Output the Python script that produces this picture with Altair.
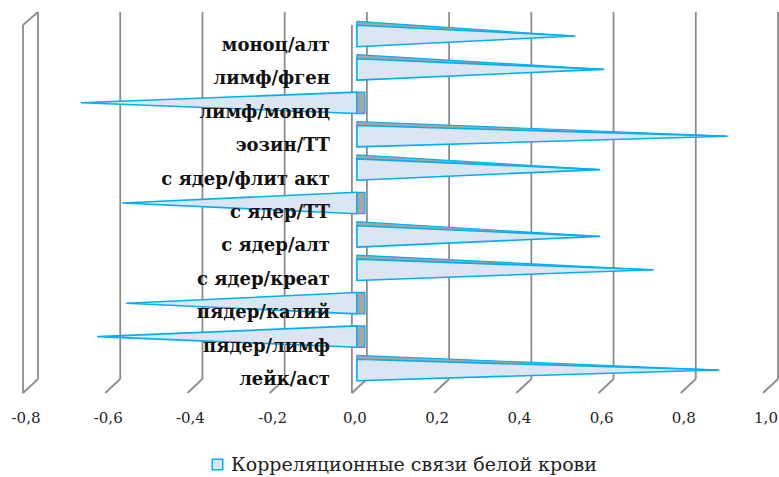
import altair as alt
import pandas as pd

categories = ["моноц/алт", "лимф/фген", "лимф/моноц", "эозин/ТТ", "с ядер/флит акт",
              "с ядер/ТТ", "с ядер/алт", "с ядер/креат", "пядер/калий", "пядер/лимф", "лейк/аст"]
values = [0.53, 0.60, -0.67, 0.90, 0.59, -0.57, 0.59, 0.72, -0.56, -0.63, 0.88]
tick_values = [-0.8, -0.6, -0.4, -0.2, 0.0, 0.2, 0.4, 0.6, 0.8, 1.0]
tick_labels = ["-0,8", "-0,6", "-0,4", "-0,2", "0,0", "0,2", "0,4", "0,6", "0,8", "1,0"]
series_name = "Корреляционные связи белой крови"

BLUE = "#00b0f0"
FILL = "#dce6f2"
GREY = "#a6a6a6"
GRID = "#8c8c8c"
H = 0.32  # half bar thickness in category units
SERIF = "DejaVu Serif"

X = alt.Scale(domain=[-0.8, 1.0], range=[23, 763], zero=False, nice=False)
Y = alt.Scale(domain=[0, 10], range=[36, 370], zero=False, nice=False)

main_rows, top_rows, side_rows, lab_rows = [], [], [], []
for i, (c, v) in enumerate(zip(categories, values)):
    main_rows.append({"cat": c, "x": 0.0, "y": i - H, "y2": i + H, "series": series_name})
    main_rows.append({"cat": c, "x": v, "y": i, "y2": i, "series": series_name})
    lab_rows.append({"cat": c, "i": i})
    if v > 0:
        top_rows.append({"cat": c, "x": 0.0, "y": i - H - 0.12, "y2": i})
        top_rows.append({"cat": c, "x": v, "y": i, "y2": i})
    else:
        side_rows.append({"cat": c, "x": 0.0, "y": i - H, "y2": i + H})

main_df = pd.DataFrame(main_rows)
top_df = pd.DataFrame(top_rows)
side_df = pd.DataFrame(side_rows)
lab_df = pd.DataFrame(lab_rows)
tick_df = pd.DataFrame({"v": tick_values, "label": tick_labels})

grid_back = alt.Chart(tick_df).mark_rule(color=GRID, strokeWidth=1.8, xOffset=15).encode(
    x=alt.X("v:Q", scale=X, axis=None), y=alt.value(12), y2=alt.value(379))
grid_diag = alt.Chart(tick_df).mark_rule(color=GRID, strokeWidth=1.8, xOffset=15, x2Offset=0).encode(
    x=alt.X("v:Q", scale=X, axis=None), x2=alt.X2("v"), y=alt.value(379), y2=alt.value(393))
grid_front = alt.Chart(tick_df).transform_filter("datum.v == -0.8 || datum.v == 0").mark_rule(
    color=GRID, strokeWidth=1.8).encode(
    x=alt.X("v:Q", scale=X, axis=None), y=alt.value(25), y2=alt.value(393))
wall_top = alt.Chart(tick_df).transform_filter("datum.v == -0.8").mark_rule(
    color=GRID, strokeWidth=1.8, xOffset=0, x2Offset=15).encode(
    x=alt.X("v:Q", scale=X, axis=None), x2=alt.X2("v"), y=alt.value(25), y2=alt.value(12))

top_faces = alt.Chart(top_df).mark_area(
    orient="vertical", fill=GREY, stroke=BLUE, strokeWidth=1.2, strokeJoin="round", xOffset=5).encode(
    x=alt.X("x:Q", scale=X, axis=None),
    y=alt.Y("y:Q", scale=Y, axis=None), y2="y2:Q", detail="cat:N")

bars = alt.Chart(main_df).mark_area(
    orient="vertical", stroke=BLUE, strokeWidth=1.6, strokeJoin="round", xOffset=5, opacity=1).encode(
    x=alt.X("x:Q", scale=X, axis=None),
    y=alt.Y("y:Q", scale=Y, axis=None), y2="y2:Q", detail="cat:N",
    color=alt.Color("series:N", scale=alt.Scale(range=[FILL]),
                    legend=alt.Legend(title=None, orient="none", legendX=208, legendY=455,
                                      symbolType="square", symbolSize=110,
                                      symbolStrokeColor=BLUE, symbolStrokeWidth=1.5,
                                      symbolFillColor=FILL, labelLimit=0,
                                      labelFont=SERIF, labelFontSize=19, labelColor="#222222",
                                      labelOffset=4, padding=0)))

sides = alt.Chart(side_df).mark_rect(
    fill=GREY, stroke=BLUE, strokeWidth=1.3, xOffset=5, x2Offset=13).encode(
    x=alt.X("x:Q", scale=X, axis=None), x2="x:Q",
    y=alt.Y("y:Q", scale=Y, axis=None), y2="y2:Q")

cat_labels = alt.Chart(lab_df).mark_text(
    align="right", baseline="alphabetic", font=SERIF, fontWeight="bold", fontSize=18,
    color="#111111", dy=15).encode(
    x=alt.value(330), y=alt.Y("i:Q", scale=Y, axis=None), text="cat:N")

tick_text = alt.Chart(tick_df).mark_text(
    align="center", baseline="alphabetic", font=SERIF, fontSize=15, color="#222222", dx=3).encode(
    x=alt.X("v:Q", scale=X, axis=None), y=alt.value(423), text="label:N")

chart = alt.layer(
    grid_back, grid_diag, grid_front, wall_top, top_faces, bars, sides, cat_labels, tick_text
).properties(
    width=779, height=477, autosize=alt.AutoSizeParams(type="none"),
    padding={"left": 0, "right": 0, "top": 0, "bottom": 0}, background="white"
).configure_view(stroke=None)

chart.save("out.html", embed_options={"renderer": "svg", "actions": False})
